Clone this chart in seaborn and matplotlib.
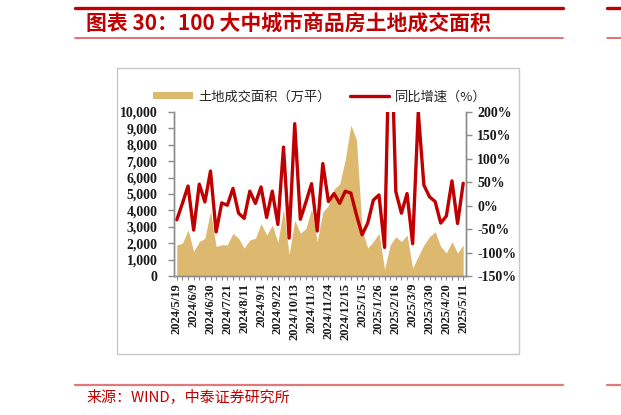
import matplotlib
matplotlib.use("Agg")
import matplotlib.pyplot as plt
import matplotlib.ticker as mticker
from matplotlib.lines import Line2D
from matplotlib.patches import Rectangle, Patch
import numpy as np
import pandas as pd
import seaborn as sns

# ---------------- data ----------------
start_date = "2024-05-19"
n_weeks = 52
land_area = [1900, 2000, 2800, 1500, 2100, 2300, 3950, 1800, 1900, 1900,
             2600, 2300, 1700, 2200, 2300, 3200, 2500, 3100, 2050, 4100,
             1300, 3400, 2600, 2900, 4100, 2100, 3900, 4300, 5300, 5600,
             7100, 9200, 8300, 2800, 1700, 2100, 2600, 400, 1900, 2400,
             2100, 2500, 480, 1200, 1900, 2400, 2700, 1800, 1400, 2100,
             1400, 1900]
yoy_pct = [-30, 5, 42, -52, 46, 8, 74, -56, 6, 1,
           37, -16, -27, 31, 5, 40, -25, 31, -40, 125,
           -69, 175, -29, 8, 47, -54, 90, 9, 26, 5,
           31, 27, -20, -62, -37, 12, 23, -89, 450, 30,
           -16, 26, -81, 200, 44, 19, 9, -37, -22, 53,
           -38, 48]
title_text = "图表 30：100 大中城市商品房土地成交面积"
source_text = "来源：WIND，中泰证券研究所"
legend_labels = ["土地成交面积（万平）", "同比增速（%）"]

dates = pd.date_range(start_date, periods=n_weeks, freq="7D")
date_labels = [f"{d.year}/{d.month}/{d.day}" for d in dates]
df = pd.DataFrame({"idx": np.arange(n_weeks), "area": land_area, "yoy": yoy_pct})

# ---------------- style ----------------
sns.set_theme(style="white")
plt.rcParams["font.family"] = ["Noto Sans CJK SC", "DejaVu Sans"]
AREA_C = "#DDB86F"
RED = "#C00000"
SPINE_C = "#8C8C8C"
serif = {"family": "Liberation Serif", "weight": "bold"}

W, H = 621, 415
fig = plt.figure(figsize=(W / 100, H / 100), dpi=100)
fig.patch.set_facecolor("white")

def fx(px):
    return px / W

def fy(py):
    return 1 - py / H

# header / footer decorations
fig.add_artist(Line2D([fx(75), fx(563)], [fy(8), fy(8)], color=RED, lw=2.4))
fig.add_artist(Line2D([fx(607), fx(621)], [fy(8), fy(8)], color=RED, lw=2.4))
fig.add_artist(Line2D([fx(75), fx(563)], [fy(38), fy(38)], color="#E06666", lw=1.3))
fig.add_artist(Line2D([fx(607), fx(621)], [fy(38), fy(38)], color="#E06666", lw=1.3))
fig.add_artist(Line2D([fx(75), fx(563)], [fy(385), fy(385)], color="#E07A7A", lw=1.6))
fig.add_artist(Line2D([fx(607), fx(621)], [fy(385), fy(385)], color="#E07A7A", lw=1.6))
fig.text(fx(86), fy(23), title_text, color=RED, fontsize=15, fontweight="bold",
         style="italic", ha="left", va="center")
fig.text(fx(86), fy(397), source_text, color=RED, fontsize=10.8, ha="left", va="center")

# chart box
fig.add_artist(Rectangle((fx(117), fy(354)), fx(519) - fx(117), fy(68) - fy(354),
                         transform=fig.transFigure, fill=False, ec="#C8C8C8", lw=1))

# ---------------- axes ----------------
ax = fig.add_axes([fx(174), fy(276), fx(466) - fx(174), fy(112) - fy(276)])
ax.set_facecolor("none")
ax.fill_between(df["idx"], df["area"], color=AREA_C, lw=0)
ax.set_xlim(-0.5, n_weeks - 0.5)
ax.set_ylim(0, 10000)
ax.yaxis.set_major_locator(mticker.MultipleLocator(1000))
ax.yaxis.set_major_formatter(mticker.FuncFormatter(lambda v, p: f"{int(v):,}"))

ax2 = ax.twinx()
sns.lineplot(data=df, x="idx", y="yoy", ax=ax2, color=RED, lw=2.4, legend=False)
ax2.set_ylim(-150, 200)
ax2.yaxis.set_major_locator(mticker.MultipleLocator(50))
ax2.yaxis.set_major_formatter(mticker.FuncFormatter(lambda v, p: f"{int(v)}%"))
ax2.set_xlim(-0.5, n_weeks - 0.5)

tick_pos = list(range(0, n_weeks, 3))
ax.set_xticks(tick_pos)
ax.set_xticklabels([date_labels[i] for i in tick_pos], rotation=90, fontdict=serif, fontsize=9)
ax.set_xticks(range(n_weeks), minor=True)
ax.set_xlabel("")
ax.set_ylabel("")
ax2.set_xlabel("")
ax2.set_ylabel("")

for a in (ax, ax2):
    for s in a.spines.values():
        s.set_color(SPINE_C)
        s.set_linewidth(1.0)
    a.spines["top"].set_visible(False)
    a.grid(False)

ax.tick_params(axis="y", which="both", left=True, direction="out", length=4, width=1,
               color=SPINE_C, pad=8, labelsize=10)
ax.tick_params(axis="x", which="both", bottom=True, direction="out", length=3, width=0.8,
               color=SPINE_C, pad=2)
ax2.tick_params(axis="y", right=True, direction="out", length=4, width=1,
                color=SPINE_C, pad=4, labelsize=10)
for lab in ax.get_yticklabels() + ax2.get_yticklabels():
    lab.set_fontfamily("Liberation Serif")
    lab.set_fontweight("bold")
    lab.set_color("#1a1a1a")
for lab in ax.get_xticklabels():
    lab.set_color("#1a1a1a")

# legend
handles = [Patch(facecolor=AREA_C, edgecolor="none"), Line2D([], [], color=RED, lw=2.4)]
fig.legend(handles=handles, labels=legend_labels, ncol=2, loc="center",
           bbox_to_anchor=(fx(320), fy(97)), frameon=False, fontsize=9.5,
           handlelength=3.0, handleheight=0.4, handletextpad=0.45, columnspacing=1.4,
           borderpad=0, borderaxespad=0)

fig.savefig("out.png", dpi=100, facecolor="white")
